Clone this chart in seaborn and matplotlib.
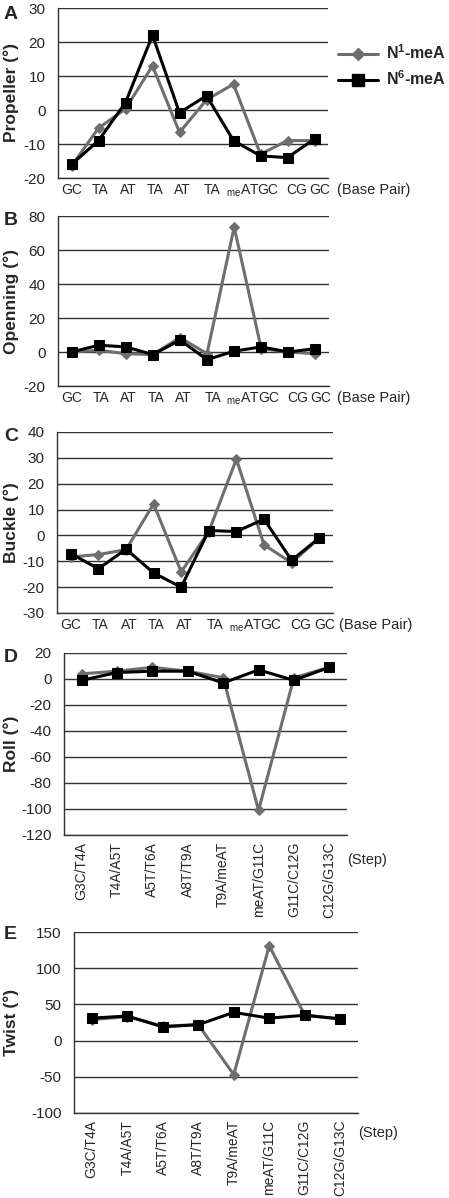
import matplotlib
matplotlib.use("Agg")
import matplotlib.pyplot as plt
import matplotlib.transforms as mtransforms
import seaborn as sns
import pandas as pd
import numpy as np
from matplotlib.lines import Line2D

sns.set_style("white")
plt.rcParams['font.family'] = ['Liberation Sans', 'DejaVu Sans']
plt.rcParams['mathtext.fontset'] = 'custom'
plt.rcParams['mathtext.rm'] = 'Liberation Sans'
plt.rcParams['mathtext.bf'] = 'Liberation Sans:bold'

# ---------------- data ----------------
base_pairs = ["GC", "TA", "AT", "TA", "AT", "TA", r"$_{\mathrm{me}}$AT", "GC", "CG", "GC"]
steps = ["G3C/T4A", "T4A/A5T", "A5T/T6A", "A8T/T9A", "T9A/meAT", "meAT/G11C", "G11C/C12G", "C12G/G13C"]

propeller_n1 = [-16.5, -5.3, 0.3, 13.0, -6.6, 3.0, 7.6, -13.0, -9.0, -9.0]
propeller_n6 = [-16.0, -9.0, 2.2, 22.0, -0.8, 4.2, -9.0, -13.5, -14.0, -8.5]

opening_n1 = [0.0, 1.0, -1.0, -1.5, 8.5, -1.0, 73.5, 2.0, 0.0, -1.0]
opening_n6 = [0.0, 4.0, 3.0, -1.5, 7.0, -4.5, 0.5, 3.0, 0.0, 2.0]

buckle_n1 = [-8.3, -7.4, -5.5, 12.2, -14.1, 1.5, 29.5, -3.6, -10.6, -1.0]
buckle_n6 = [-7.0, -12.9, -5.3, -14.5, -20.0, 1.9, 1.5, 6.3, -9.6, -1.0]

roll_n1 = [4.0, 6.0, 9.0, 6.0, 1.0, -101.0, 1.0, 9.0]
roll_n6 = [-1.0, 5.0, 6.0, 6.0, -3.0, 7.0, -1.0, 9.0]

twist_n1 = [29.0, 33.0, 20.0, 22.0, -47.0, 131.0, 35.0, 30.0]
twist_n6 = [31.0, 34.0, 19.0, 22.0, 39.0, 31.0, 35.0, 30.0]

series_names = ["N1", "N6"]
legend_labels = [r"N$^{\mathbf{1}}$-meA", r"N$^{\mathbf{6}}$-meA"]
colors = {"N1": "#6e6e6e", "N6": "#000000"}
markers = {"N1": "D", "N6": "s"}
msizes = {"N1": 5, "N6": 7}

# label shifts (pixels) mimicking the hand-placed base-pair labels of the original
bp_label_shift = [0, 2, 3, 3, 3, 6, 9, 7, 9, 5]

W, H = 449, 1198
fig = plt.figure(figsize=(W / 100, H / 100), dpi=100)

def make_ax(left, right, top, bottom):
    ax = fig.add_axes([left / W, 1 - bottom / H, (right - left) / W, (bottom - top) / H])
    ax._px = (left, right)
    return ax

def draw(ax, labels, n1, n6, ylim, yticks, ylabel, rotated):
    n = len(labels)
    df = pd.DataFrame({
        "pos": list(range(n)) * 2,
        "val": list(n1) + list(n6),
        "series": ["N1"] * n + ["N6"] * n,
    })
    for s in series_names:
        sub = df[df.series == s]
        sns.lineplot(data=sub, x="pos", y="val", ax=ax, color=colors[s], marker=markers[s],
                     markersize=msizes[s], markeredgecolor=colors[s], linewidth=2.2,
                     legend=False, zorder=3 if s == "N6" else 2)
    ax.set_xlim(-0.5, n - 0.5)
    ax.set_ylim(*ylim)
    ax.set_yticks(yticks)
    ax.set_yticklabels([str(v) for v in yticks], fontsize=11)
    ax.yaxis.grid(True, color="#333333", linewidth=1.0)
    ax.xaxis.grid(False)
    for sp in ["top", "right"]:
        ax.spines[sp].set_visible(False)
    for sp in ["left", "bottom"]:
        ax.spines[sp].set_color("#333333")
        ax.spines[sp].set_linewidth(1.0)
    ax.set_xticks(range(n))
    if rotated:
        ax.set_xticklabels(labels, rotation=90, fontsize=10)
    else:
        ax.set_xticklabels([""] * n)
        for i, (lab, dx) in enumerate(zip(labels, bp_label_shift)):
            tr = ax.get_xaxis_transform() + mtransforms.ScaledTranslation(
                dx / 100, -5 / 100, fig.dpi_scale_trans)
            ax.text(i, 0, lab, transform=tr, ha="center", va="top", fontsize=10)
    ax.tick_params(axis="y", length=0, pad=9)
    ax.tick_params(axis="x", length=0, pad=5)
    ax.set_xlabel("")
    ax.set_ylabel(ylabel, fontsize=12.5, fontweight="bold")
    left, right = ax._px
    ax.yaxis.set_label_coords((19 - left) / (right - left), 0.5)
    return ax

def letter(ch, xpx, ypx):
    fig.text(xpx / W, 1 - ypx / H, ch, fontsize=14, fontweight="bold", ha="left", va="top")

def unit(text, xpx, ypx, va="top"):
    fig.text(xpx / W, 1 - ypx / H, text, fontsize=10.5, ha="left", va=va)

axA = make_ax(58, 328, 8, 178)
draw(axA, base_pairs, propeller_n1, propeller_n6, (-20, 30), [-20, -10, 0, 10, 20, 30],
     "Propeller (°)", False)
letter("A", 4, 6)
unit("(Base Pair)", 337, 183)

axB = make_ax(58, 329, 216, 386)
draw(axB, base_pairs, opening_n1, opening_n6, (-20, 80), [-20, 0, 20, 40, 60, 80],
     "Openning (°)", False)
letter("B", 4, 212)
unit("(Base Pair)", 337, 391)

axC = make_ax(57, 333, 432, 613)
draw(axC, base_pairs, buckle_n1, buckle_n6, (-30, 40), [-30, -20, -10, 0, 10, 20, 30, 40],
     "Buckle (°)", False)
letter("C", 4, 428)
unit("(Base Pair)", 339, 618)

axD = make_ax(64, 347, 653, 835)
draw(axD, steps, roll_n1, roll_n6, (-120, 20), [-120, -100, -80, -60, -40, -20, 0, 20],
     "Roll (°)", True)
letter("D", 4, 649)
unit("(Step)", 347, 860, va="center")

axE = make_ax(74, 358, 932, 1113)
draw(axE, steps, twist_n1, twist_n6, (-100, 150), [-100, -50, 0, 50, 100, 150],
     "Twist (°)", True)
letter("E", 4, 926)
unit("(Step)", 358, 1133, va="center")

handles = [Line2D([0], [0], color=colors[s], marker=markers[s], markersize=msizes[s] + 1,
                  markeredgecolor=colors[s], linewidth=2.2) for s in series_names]
leg = fig.legend(handles, legend_labels, loc="upper left",
                 bbox_to_anchor=(333 / W, 1 - 39 / H), frameon=False,
                 handlelength=2.5, handletextpad=0.5, labelspacing=0.45,
                 borderpad=0.3, borderaxespad=0.0,
                 prop={"size": 11.5, "weight": "bold"})

fig.savefig("out.png", dpi=100)
